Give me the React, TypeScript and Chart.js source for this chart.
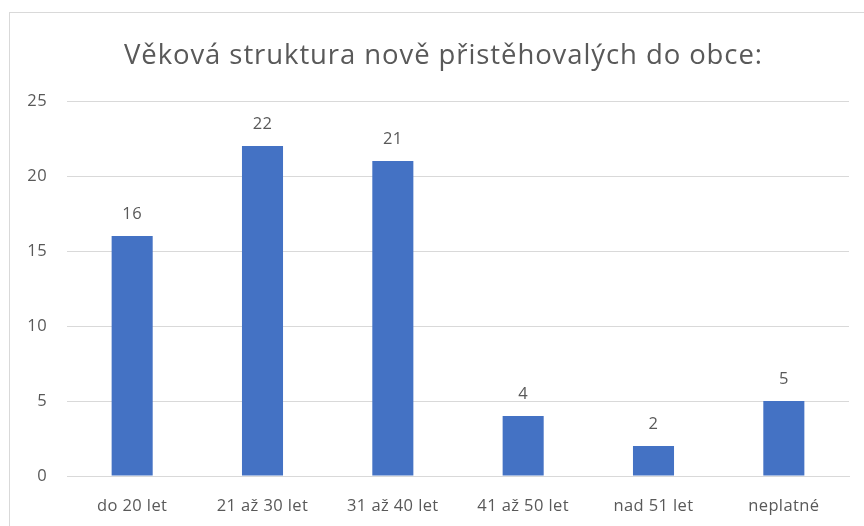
import React, { useEffect, useRef } from "react";
import { Chart, registerables } from "chart.js";

Chart.register(...registerables);

const title = "Věková struktura nově přistěhovalých do obce:";
const categories = ["do 20 let", "21 až 30 let", "31 až 40 let", "41 až 50 let", "nad 51 let", "neplatné"];
const values = [16, 22, 21, 4, 2, 5];

const FONT = "'Open Sans', 'Liberation Sans', Arial, sans-serif";
const TEXT = "#595959";
const SPACING = "0.4px";

const overlay = {
  id: "overlay",
  beforeLayout(chart: any) {
    chart.ctx.letterSpacing = SPACING;
  },
  beforeDraw(chart: any) {
    chart.ctx.letterSpacing = SPACING;
  },
  afterDatasetsDraw(chart: any) {
    const ctx = chart.ctx;
    ctx.save();
    ctx.letterSpacing = SPACING;
    ctx.fillStyle = TEXT;
    ctx.font = `16.5px ${FONT}`;
    ctx.textAlign = "center";
    ctx.textBaseline = "alphabetic";
    const meta = chart.getDatasetMeta(0);
    meta.data.forEach((bar: any, i: number) => {
      ctx.fillText(String(values[i]), bar.x, bar.y - 17);
    });
    ctx.font = `27.5px ${FONT}`;
    ctx.letterSpacing = "0px";
    const w = ctx.measureText(title).width;
    const ls = Math.max(0, (638 - w) / (title.length - 1));
    ctx.letterSpacing = `${ls}px`;
    ctx.textAlign = "left";
    ctx.fillText(title, 124, 64);
    ctx.restore();
  },
};

export default function App() {
  const ref = useRef<HTMLCanvasElement>(null);
  useEffect(() => {
    const chart = new Chart(ref.current!, {
      type: "bar",
      data: {
        labels: categories,
        datasets: [
          {
            data: values,
            backgroundColor: "#4472C4",
            barPercentage: 1,
            categoryPercentage: 0.315,
          },
        ],
      },
      options: {
        animation: false,
        responsive: false,
        maintainAspectRatio: false,
        layout: { padding: { top: 101, right: 15, bottom: 0, left: 0 } },
        plugins: { legend: { display: false }, tooltip: { enabled: false }, title: { display: false } },
        scales: {
          x: {
            grid: { display: false, drawTicks: false },
            border: { display: true, color: "#d9d9d9" },
            ticks: { color: TEXT, font: { family: FONT, size: 16.5 }, padding: 20 },
            afterFit(scale: any) {
              scale.height = 50;
            },
          },
          y: {
            min: 0,
            max: 25,
            ticks: { stepSize: 5, color: TEXT, font: { family: FONT, size: 16.5 }, padding: 20 },
            grid: { color: "#d9d9d9", drawTicks: false },
            border: { display: false },
            afterFit(scale: any) {
              scale.width = 67;
            },
          },
        },
      },
      plugins: [overlay],
    });
    return () => chart.destroy();
  }, []);
  return (
    <div style={{ position: "fixed", left: 0, top: 0, width: 864, height: 526, background: "#fff", overflow: "hidden" }}>
      <div style={{ position: "absolute", left: 9, top: 12, width: 900, height: 600, border: "1px solid #d9d9d9" }} />
      <canvas ref={ref} width={864} height={526} style={{ position: "absolute", left: 0, top: 0 }} />
    </div>
  );
}
